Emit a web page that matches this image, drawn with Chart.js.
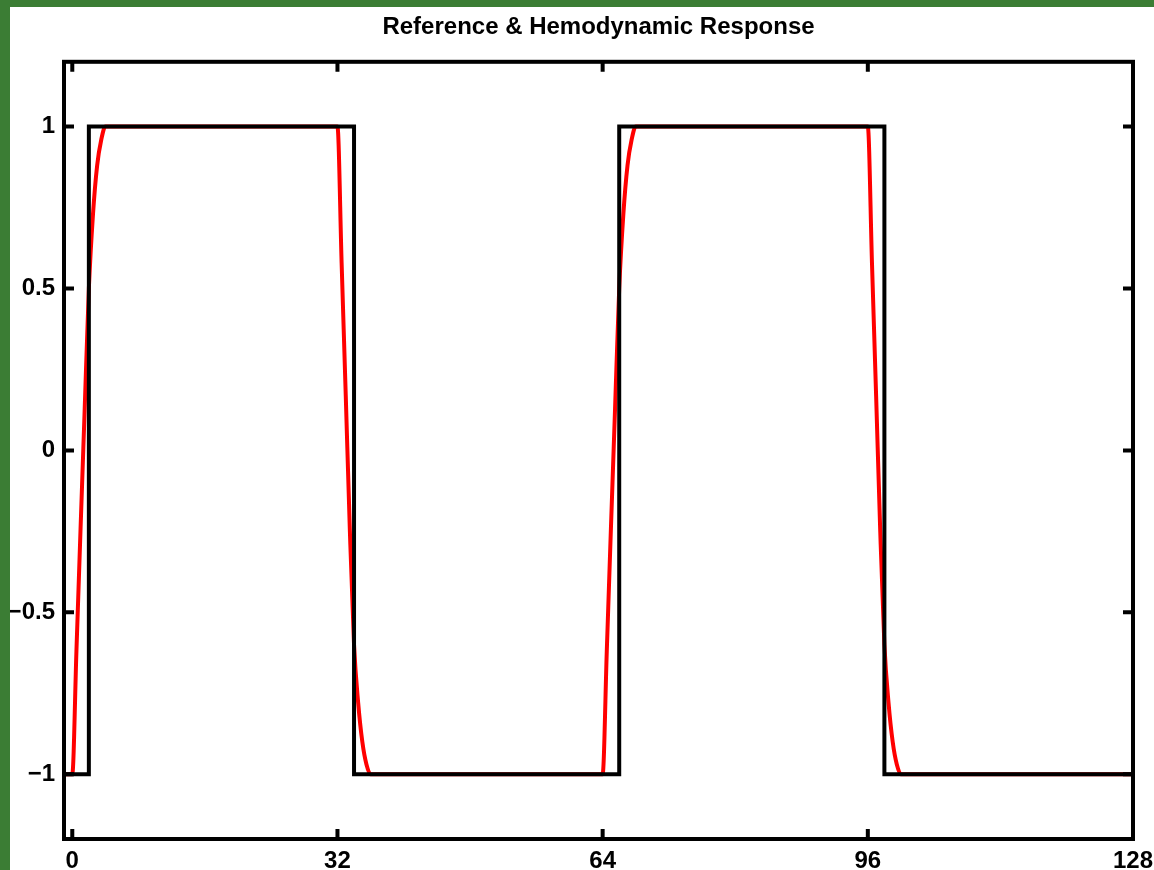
<!DOCTYPE html>
<html>
<head>
<meta charset="utf-8">
<title>Reference & Hemodynamic Response</title>
<script src="https://cdn.jsdelivr.net/npm/chart.js@4.4.1/dist/chart.umd.min.js"></script>
<style>
    html, body { margin: 0; padding: 0; background: #3b7d34; }
    #riquadro { position: absolute; left: 10px; top: 7px; width: 1144px; height: 863px; background: #fff; }
    canvas { display: block; }
</style>
</head>
<body>
<div id="riquadro"><canvas id="mychart-line" width="1144" height="863"></canvas></div>
<script>
// onda quadra di riferimento (nero)
var riferimentoX = [-1, 2, 2, 34, 34, 66, 66, 98, 98, 128];
var riferimentoY = [-1, -1, 1, 1, -1, -1, 1, 1, -1, -1];

// risposta emodinamica (rosso)
var rispostaX = [-1, 0, 0.5, 1, 1.5, 2, 2.5, 3, 3.5, 4,
                 32, 32.5, 33, 33.5, 34, 34.5, 35, 35.5, 36,
                 64, 64.5, 65, 65.5, 66, 66.5, 67, 67.5, 68,
                 96, 96.5, 97, 97.5, 98, 98.5, 99, 99.5, 100, 128];
var rispostaY = [-1, -1, -0.62, -0.24, 0.13, 0.5, 0.73, 0.88, 0.96, 1,
                 1, 0.58, 0.17, -0.25, -0.6, -0.78, -0.9, -0.97, -1,
                 -1, -0.62, -0.24, 0.13, 0.5, 0.73, 0.88, 0.96, 1,
                 1, 0.58, 0.17, -0.25, -0.6, -0.78, -0.9, -0.97, -1, -1];

// tacche degli assi
var tickX = [0, 32, 64, 96, 128];
var tickY = [-1, -0.5, 0, 0.5, 1];

function punti(xs, ys) {
    var out = [];
    for (var i = 0; i < xs.length; i++) {
        out.push({ x: xs[i], y: ys[i] });
    }
    return out;
}

var fontAssi = { family: '"Liberation Sans", Arial, sans-serif', size: 24, weight: 'bold' };

// cornice spessa con tacche rivolte verso l'interno su tutti e quattro i lati
var cornice = {
    id: 'cornice',
    afterDatasetsDraw: function (chart) {
        var ctx = chart.ctx;
        var a = chart.chartArea;
        var sx = chart.scales.x;
        var sy = chart.scales.y;
        var lung = 10;
        ctx.save();
        ctx.strokeStyle = '#000';
        ctx.lineWidth = 4;
        ctx.beginPath();
        for (var i = 0; i < tickX.length; i++) {
            var px = sx.getPixelForValue(tickX[i]);
            ctx.moveTo(px, a.bottom);
            ctx.lineTo(px, a.bottom - lung);
            ctx.moveTo(px, a.top);
            ctx.lineTo(px, a.top + lung);
        }
        for (var j = 0; j < tickY.length; j++) {
            var py = sy.getPixelForValue(tickY[j]);
            ctx.moveTo(a.left, py);
            ctx.lineTo(a.left + lung, py);
            ctx.moveTo(a.right, py);
            ctx.lineTo(a.right - lung, py);
        }
        ctx.stroke();
        ctx.lineJoin = 'miter';
        ctx.strokeRect(a.left, a.top, a.right - a.left, a.bottom - a.top);
        ctx.restore();
    }
};

var ctx = document.getElementById('mychart-line').getContext('2d');
var chart = new Chart(ctx, {
    type: 'line',
    data: {
        datasets: [{
            label: 'Riferimento',
            data: punti(riferimentoX, riferimentoY),
            borderColor: '#000000',
            borderWidth: 4,
            pointRadius: 0,
            fill: false,
            tension: 0
        }, {
            label: 'Risposta emodinamica',
            data: punti(rispostaX, rispostaY),
            borderColor: '#ff0000',
            borderWidth: 4,
            pointRadius: 0,
            fill: false,
            cubicInterpolationMode: 'monotone'
        }]
    },
    options: {
        responsive: false,
        animation: false,
        devicePixelRatio: 1,
        layout: { padding: { top: 0, right: 21, bottom: 0, left: 0 } },
        plugins: {
            legend: { display: false },
            tooltip: { enabled: false },
            title: {
                display: true,
                text: 'Reference & Hemodynamic Response',
                color: '#000',
                fullSize: false,
                font: fontAssi,
                padding: { top: 6, bottom: 20 }
            }
        },
        scales: {
            x: {
                type: 'linear',
                min: -1,
                max: 128,
                grid: { display: false, drawTicks: false },
                border: { display: false },
                afterBuildTicks: function (s) {
                    s.ticks = tickX.map(function (v) { return { value: v }; });
                },
                afterFit: function (s) {
                    s.height = 31;
                    s.paddingLeft = 0;
                    s.paddingRight = 0;
                },
                ticks: {
                    color: '#000',
                    font: fontAssi,
                    padding: 8,
                    maxRotation: 0,
                    autoSkip: false
                }
            },
            y: {
                type: 'linear',
                min: -1.2,
                max: 1.2,
                grid: { display: false, drawTicks: false },
                border: { display: false },
                afterBuildTicks: function (s) {
                    s.ticks = tickY.map(function (v) { return { value: v }; });
                },
                afterFit: function (s) {
                    s.width = 54;
                    s.paddingTop = 0;
                    s.paddingBottom = 0;
                },
                ticks: {
                    color: '#000',
                    font: fontAssi,
                    padding: 9,
                    autoSkip: false,
                    callback: function (v) { return String(v).replace('-', '\u2212'); }
                }
            }
        }
    },
    plugins: [cornice]
});
</script>
</body>
</html>
